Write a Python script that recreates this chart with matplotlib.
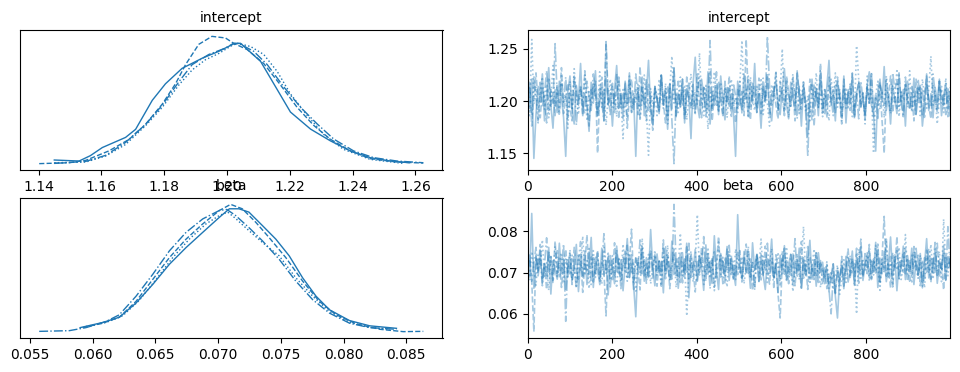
import matplotlib
matplotlib.use("Agg")
import matplotlib.pyplot as plt
import numpy as np

var_names = ["intercept", "beta"]
chain_styles = ["-", "--", ":", "-."]

# --- KDE curves (x, density) per chain ---
intercept_kde_x = [
    [1.145, 1.1529, 1.1565, 1.1603, 1.1677, 1.1709, 1.1762, 1.1804, 1.1857, 1.1921, 1.1974,
     1.2025, 1.2043, 1.2107, 1.2149, 1.2202, 1.2266, 1.2329, 1.2393, 1.2456, 1.2520, 1.2580],
    [1.1402, 1.1497, 1.155, 1.1624, 1.1688, 1.1741, 1.1794, 1.1836, 1.1868, 1.191, 1.1952,
     1.1995, 1.2021, 1.2065, 1.2117, 1.217, 1.2223, 1.2276, 1.2329, 1.2393, 1.2456, 1.2541, 1.2625],
    [1.145, 1.155, 1.1614, 1.1677, 1.1741, 1.1794, 1.1847, 1.1889, 1.1931, 1.1974, 1.2016,
     1.2033, 1.2075, 1.2117, 1.216, 1.2202, 1.2255, 1.2308, 1.2371, 1.2456, 1.2562],
    [1.145, 1.155, 1.1614, 1.1677, 1.1741, 1.1794, 1.1847, 1.1889, 1.1942, 1.1995, 1.2021,
     1.2043, 1.2085, 1.2128, 1.2181, 1.2234, 1.2287, 1.234, 1.2403, 1.2467, 1.2541, 1.2625],
]
intercept_kde_y = [
    [0.70, 0.51, 1.52, 3.04, 4.94, 6.46, 11.9, 15.0, 17.9, 19.8, 21.1,
     22.6, 22.6, 19.2, 15.0, 9.7, 6.5, 4.3, 2.4, 1.14, 0.51, 0.19],
    [0.02, 0.19, 0.63, 2.41, 4.56, 7.41, 11.2, 15.0, 18.6, 22.4, 23.9,
     23.6, 22.6, 21.4, 18.8, 14.8, 10.6, 7.2, 4.6, 2.4, 0.95, 0.32, 0.13],
    [0.19, 0.32, 1.46, 3.61, 7.16, 10.6, 14.8, 17.6, 19.5, 20.7, 22.2,
     22.6, 22.0, 20.5, 17.3, 13.1, 9.1, 5.5, 2.7, 0.82, 0.06],
    [0.06, 0.44, 1.58, 4.0, 7.41, 11.0, 15.4, 18.6, 20.5, 21.7, 22.6,
     22.4, 21.1, 18.6, 14.4, 10.6, 7.47, 4.62, 2.41, 1.14, 0.51, 0.19],
]
beta_kde_x = [
    [0.0590, 0.0608, 0.06213, 0.06346, 0.06479, 0.06612, 0.06745, 0.06878, 0.07011, 0.0709,
     0.07166, 0.07246, 0.07353, 0.0746, 0.07567, 0.07674, 0.07781, 0.07888, 0.08048, 0.08209, 0.08422],
    [0.0592, 0.0608, 0.06213, 0.06346, 0.06479, 0.06612, 0.06745, 0.06878, 0.07011, 0.0710,
     0.07193, 0.073, 0.07406, 0.0754, 0.07674, 0.07807, 0.07941, 0.08102, 0.08289, 0.08476, 0.08636],
    [0.05947, 0.06106, 0.0624, 0.06372, 0.06505, 0.06638, 0.06771, 0.06904, 0.07011, 0.07077,
     0.07140, 0.07219, 0.07353, 0.07487, 0.0762, 0.07754, 0.07888, 0.08048, 0.08209, 0.08369],
    [0.05574, 0.05814, 0.05947, 0.06106, 0.06213, 0.06346, 0.06479, 0.06612, 0.06745, 0.06878,
     0.07011, 0.0707, 0.07139, 0.07246, 0.07353, 0.07487, 0.0762, 0.07754, 0.07888, 0.08048,
     0.08209, 0.08422],
]
beta_kde_y = [
    [2.9, 6.6, 10.4, 20.7, 34.1, 48.7, 60.8, 71.8, 82.7, 88.8,
     88.8, 86.4, 76.7, 66.9, 54.8, 38.9, 25.6, 15.8, 8.0, 4.2, 2.4],
    [2.9, 6.1, 10.4, 21.9, 37.7, 53.5, 66.9, 77.9, 87.6, 92.0,
     88.8, 79.1, 68.1, 53.5, 36.5, 21.9, 12.2, 5.6, 1.7, 0.0, 0.2],
    [3.7, 6.6, 11.5, 22.6, 37.7, 53.5, 66.9, 77.9, 84.0, 86.4,
     81.8, 75.2, 64.5, 54.8, 38.9, 25.6, 14.6, 6.6, 3.1, 1.7],
    [0.2, 0.7, 2.9, 7.3, 12.2, 25.6, 41.4, 58.4, 71.8, 81.5,
     87.6, 88.3, 84.0, 75.2, 65.7, 52.3, 36.5, 23.1, 13.4, 6.1, 2.9, 1.7],
]

# --- trace values (every ~5th draw) per chain ---
intercept_trace = [
    [1.208, 1.193, 1.221, 1.145, 1.187, 1.214, 1.199, 1.226, 1.181, 1.205, 1.232, 1.196, 1.174, 1.211, 1.189, 1.219, 1.203, 1.184, 1.147, 1.209,
     1.224, 1.192, 1.178, 1.215, 1.201, 1.236, 1.188, 1.207, 1.195, 1.171, 1.218, 1.203, 1.229, 1.186, 1.199, 1.213, 1.181, 1.222, 1.197, 1.208,
     1.176, 1.211, 1.234, 1.193, 1.205, 1.183, 1.219, 1.198, 1.227, 1.189, 1.204, 1.147, 1.212, 1.195, 1.223, 1.186, 1.208, 1.239, 1.192, 1.177,
     1.214, 1.201, 1.188, 1.225, 1.196, 1.209, 1.173, 1.216, 1.199, 1.231, 1.185, 1.206, 1.194, 1.221, 1.179, 1.212, 1.203, 1.164, 1.217, 1.242,
     1.197, 1.184, 1.221, 1.205, 1.191, 1.228, 1.178, 1.209, 1.196, 1.215, 1.187, 1.224, 1.201, 1.182, 1.213, 1.195, 1.207, 1.188, 1.147, 1.219,
     1.203, 1.192, 1.226, 1.211, 1.185, 1.217, 1.198, 1.236, 1.189, 1.206, 1.174, 1.214, 1.201, 1.223, 1.193, 1.181, 1.208, 1.219, 1.196, 1.187,
     1.212, 1.231, 1.197, 1.183, 1.218, 1.204, 1.191, 1.227, 1.209, 1.176, 1.215, 1.199, 1.166, 1.206, 1.221, 1.193, 1.212, 1.186, 1.229, 1.201,
     1.188, 1.214, 1.239, 1.196, 1.207, 1.181, 1.219, 1.203, 1.192, 1.224, 1.179, 1.211, 1.198, 1.226, 1.185, 1.208, 1.217, 1.194, 1.204, 1.182,
     1.215, 1.228, 1.196, 1.187, 1.152, 1.209, 1.221, 1.199, 1.233, 1.191, 1.206, 1.178, 1.214, 1.202, 1.188, 1.225, 1.197, 1.211, 1.176, 1.219,
     1.204, 1.192, 1.222, 1.187, 1.209, 1.215, 1.176, 1.198, 1.226, 1.191, 1.207, 1.184, 1.213, 1.199, 1.221, 1.186, 1.205, 1.217, 1.193, 1.209],
    [1.191, 1.218, 1.176, 1.205, 1.227, 1.198, 1.184, 1.212, 1.203, 1.179, 1.221, 1.194, 1.208, 1.186, 1.215, 1.199, 1.232, 1.188, 1.204, 1.217,
     1.193, 1.181, 1.224, 1.207, 1.196, 1.213, 1.185, 1.229, 1.201, 1.176, 1.211, 1.198, 1.219, 1.150, 1.206, 1.223, 1.191, 1.256, 1.204, 1.187,
     1.214, 1.197, 1.226, 1.183, 1.209, 1.192, 1.218, 1.174, 1.205, 1.221, 1.196, 1.211, 1.187, 1.233, 1.199, 1.208, 1.181, 1.216, 1.194, 1.172,
     1.212, 1.203, 1.189, 1.225, 1.198, 1.179, 1.215, 1.206, 1.191, 1.232, 1.186, 1.209, 1.197, 1.221, 1.183, 1.204, 1.218, 1.193, 1.211, 1.188,
     1.226, 1.199, 1.184, 1.213, 1.205, 1.192, 1.228, 1.181, 1.207, 1.196, 1.219, 1.203, 1.187, 1.214, 1.198, 1.224, 1.191, 1.206, 1.179, 1.212,
     1.195, 1.209, 1.186, 1.259, 1.201, 1.182, 1.217, 1.204, 1.193, 1.222, 1.188, 1.211, 1.199, 1.227, 1.185, 1.206, 1.214, 1.196, 1.183, 1.219,
     1.202, 1.189, 1.224, 1.208, 1.195, 1.213, 1.181, 1.229, 1.204, 1.192, 1.218, 1.197, 1.186, 1.221, 1.207, 1.176, 1.212, 1.199, 1.236, 1.193,
     1.205, 1.184, 1.216, 1.198, 1.211, 1.189, 1.223, 1.202, 1.178, 1.214, 1.196, 1.208, 1.191, 1.227, 1.183, 1.205, 1.219, 1.194, 1.209, 1.187,
     1.213, 1.199, 1.226, 1.185, 1.207, 1.196, 1.218, 1.181, 1.150, 1.211, 1.202, 1.224, 1.189, 1.206, 1.193, 1.227, 1.198, 1.185, 1.216, 1.204,
     1.192, 1.209, 1.181, 1.221, 1.198, 1.213, 1.187, 1.206, 1.224, 1.195, 1.183, 1.215, 1.201, 1.189, 1.219, 1.207, 1.196, 1.212, 1.185, 1.203],
    [1.203, 1.186, 1.259, 1.197, 1.214, 1.179, 1.208, 1.223, 1.192, 1.216, 1.184, 1.201, 1.234, 1.195, 1.211, 1.188, 1.226, 1.199, 1.206, 1.174,
     1.219, 1.193, 1.231, 1.205, 1.187, 1.212, 1.198, 1.225, 1.181, 1.209, 1.196, 1.217, 1.203, 1.189, 1.228, 1.194, 1.211, 1.177, 1.204, 1.221,
     1.192, 1.208, 1.185, 1.219, 1.201, 1.164, 1.213, 1.196, 1.224, 1.188, 1.207, 1.199, 1.216, 1.181, 1.203, 1.225, 1.191, 1.148, 1.212, 1.197,
     1.209, 1.186, 1.221, 1.204, 1.193, 1.217, 1.178, 1.211, 1.243, 1.198, 1.206, 1.189, 1.223, 1.195, 1.214, 1.182, 1.205, 1.226, 1.192, 1.209,
     1.197, 1.246, 1.201, 1.186, 1.215, 1.173, 1.208, 1.194, 1.228, 1.203, 1.189, 1.218, 1.199, 1.212, 1.184, 1.207, 1.221, 1.195, 1.203, 1.189,
     1.216, 1.258, 1.197, 1.211, 1.184, 1.223, 1.203, 1.191, 1.214, 1.206, 1.222, 1.187, 1.209, 1.198, 1.176, 1.216, 1.201, 1.229, 1.193, 1.207,
     1.250, 1.193, 1.212, 1.184, 1.207, 1.226, 1.198, 1.214, 1.188, 1.203, 1.219, 1.191, 1.205, 1.181, 1.217, 1.199, 1.227, 1.194, 1.208, 1.185,
     1.212, 1.196, 1.181, 1.221, 1.205, 1.227, 1.194, 1.211, 1.186, 1.199, 1.213, 1.192, 1.218, 1.204, 1.187, 1.253, 1.221, 1.197, 1.209, 1.178,
     1.224, 1.196, 1.211, 1.150, 1.205, 1.219, 1.192, 1.208, 1.184, 1.224, 1.201, 1.188, 1.215, 1.197, 1.231, 1.185, 1.209, 1.202, 1.217, 1.194,
     1.229, 1.189, 1.206, 1.198, 1.214, 1.186, 1.221, 1.204, 1.193, 1.211, 1.243, 1.196, 1.207, 1.178, 1.201, 1.214, 1.189, 1.222, 1.198, 1.213],
    [1.196, 1.213, 1.187, 1.224, 1.202, 1.181, 1.218, 1.194, 1.207, 1.229, 1.191, 1.211, 1.198, 1.255, 1.204, 1.186, 1.216, 1.199, 1.223, 1.184,
     1.209, 1.193, 1.221, 1.177, 1.205, 1.214, 1.196, 1.188, 1.219, 1.203, 1.191, 1.226, 1.208, 1.185, 1.212, 1.199, 1.181, 1.257, 1.196, 1.204,
     1.217, 1.189, 1.208, 1.223, 1.194, 1.211, 1.198, 1.185, 1.219, 1.202, 1.192, 1.226, 1.207, 1.184, 1.213, 1.197, 1.221, 1.191, 1.205, 1.182,
     1.214, 1.203, 1.191, 1.226, 1.197, 1.212, 1.186, 1.218, 1.182, 1.140, 1.206, 1.219, 1.194, 1.211, 1.187, 1.223, 1.201, 1.195, 1.216, 1.189,
     1.208, 1.223, 1.196, 1.213, 1.185, 1.202, 1.258, 1.193, 1.207, 1.228, 1.191, 1.204, 1.186, 1.219, 1.199, 1.212, 1.184, 1.217, 1.205, 1.194,
     1.219, 1.188, 1.211, 1.202, 1.224, 1.193, 1.206, 1.215, 1.189, 1.208, 1.197, 1.222, 1.201, 1.262, 1.214, 1.196, 1.209, 1.227, 1.191, 1.203,
     1.213, 1.186, 1.219, 1.204, 1.195, 1.222, 1.209, 1.183, 1.214, 1.198, 1.207, 1.191, 1.148, 1.199, 1.182, 1.216, 1.204, 1.193, 1.221, 1.187,
     1.211, 1.196, 1.223, 1.204, 1.186, 1.215, 1.198, 1.209, 1.181, 1.221, 1.193, 1.206, 1.214, 1.185, 1.195, 1.207, 1.183, 1.219, 1.201, 1.188,
     1.214, 1.198, 1.227, 1.191, 1.204, 1.182, 1.216, 1.209, 1.196, 1.222, 1.203, 1.189, 1.227, 1.211, 1.219, 1.195, 1.208, 1.186, 1.223, 1.201,
     1.192, 1.214, 1.205, 1.186, 1.221, 1.199, 1.211, 1.183, 1.216, 1.202, 1.194, 1.226, 1.208, 1.191, 1.219, 1.198, 1.206, 1.187, 1.213, 1.185],
]
beta_trace = [
    [0.0716, 0.0689, 0.0843, 0.0662, 0.0738, 0.0701, 0.0754, 0.0675, 0.0722, 0.0693, 0.0761, 0.0648, 0.0729, 0.0707, 0.0684, 0.0771, 0.0698, 0.0733, 0.0659, 0.0715,
     0.0747, 0.0681, 0.0709, 0.0768, 0.0654, 0.0726, 0.0693, 0.0752, 0.0671, 0.0718, 0.0785, 0.0664, 0.0737, 0.0702, 0.0679, 0.0759, 0.0694, 0.0729, 0.0646, 0.0741,
     0.0708, 0.0673, 0.0764, 0.0697, 0.0731, 0.0656, 0.0719, 0.0782, 0.0688, 0.0743, 0.0667, 0.0593, 0.0725, 0.0706, 0.0758, 0.0679, 0.0736, 0.0691, 0.0804, 0.0712,
     0.0668, 0.0745, 0.0699, 0.0727, 0.0651, 0.0762, 0.0713, 0.0684, 0.0776, 0.0695, 0.0733, 0.0662, 0.0719, 0.0748, 0.0687, 0.0771, 0.0639, 0.0724, 0.0703, 0.0756,
     0.0682, 0.0739, 0.0711, 0.0657, 0.0767, 0.0696, 0.0728, 0.0674, 0.0789, 0.0705, 0.0659, 0.0746, 0.0718, 0.0692, 0.0763, 0.0681, 0.0734, 0.0702, 0.0669, 0.0840,
     0.0714, 0.0688, 0.0751, 0.0699, 0.0726, 0.0662, 0.0772, 0.0706, 0.0738, 0.0678, 0.0745, 0.0694, 0.0659, 0.0733, 0.0717, 0.0781, 0.0686, 0.0723, 0.0651, 0.0742,
     0.0697, 0.0765, 0.0683, 0.0719, 0.0744, 0.0671, 0.0728, 0.0704, 0.0759, 0.0662, 0.0736, 0.0693, 0.0712, 0.0778, 0.0684, 0.0731, 0.0667, 0.0748, 0.0701, 0.0725,
     0.0673, 0.0709, 0.0654, 0.0692, 0.0721, 0.0643, 0.0590, 0.0686, 0.0714, 0.0661, 0.0739, 0.0677, 0.0704, 0.0752, 0.0669, 0.0728, 0.0695, 0.0763, 0.0681, 0.0717,
     0.0744, 0.0689, 0.0726, 0.0701, 0.0773, 0.0664, 0.0735, 0.0697, 0.0751, 0.0678, 0.0719, 0.0786, 0.0692, 0.0738, 0.0656, 0.0727, 0.0709, 0.0764, 0.0683, 0.0741,
     0.0702, 0.0759, 0.0671, 0.0728, 0.0694, 0.0746, 0.0663, 0.0719, 0.0782, 0.0687, 0.0735, 0.0699, 0.0757, 0.0674, 0.0723, 0.0708, 0.0766, 0.0681, 0.0739, 0.0712],
    [0.0694, 0.0732, 0.0678, 0.0557, 0.0741, 0.0705, 0.0768, 0.0686, 0.0723, 0.0659, 0.0749, 0.0712, 0.0681, 0.0776, 0.0697, 0.0735, 0.0664, 0.0718, 0.0756, 0.0689,
     0.0727, 0.0671, 0.0761, 0.0703, 0.0684, 0.0744, 0.0652, 0.0719, 0.0791, 0.0696, 0.0738, 0.0677, 0.0709, 0.0754, 0.0668, 0.0729, 0.0701, 0.0595, 0.0747, 0.0714,
     0.0683, 0.0772, 0.0698, 0.0734, 0.0661, 0.0716, 0.0751, 0.0689, 0.0726, 0.0805, 0.0674, 0.0737, 0.0706, 0.0658, 0.0763, 0.0692, 0.0721, 0.0684, 0.0749, 0.0711,
     0.0739, 0.0667, 0.0728, 0.0702, 0.0779, 0.0685, 0.0743, 0.0661, 0.0715, 0.0757, 0.0693, 0.0734, 0.0676, 0.0724, 0.0698, 0.0766, 0.0681, 0.0745, 0.0707, 0.0653,
     0.0731, 0.0694, 0.0762, 0.0716, 0.0679, 0.0748, 0.0702, 0.0736, 0.0665, 0.0721, 0.0787, 0.0689, 0.0727, 0.0673, 0.0758, 0.0704, 0.0741, 0.0682, 0.0717, 0.0695,
     0.0753, 0.0686, 0.0724, 0.0769, 0.0698, 0.0733, 0.0657, 0.0711, 0.0746, 0.0679, 0.0727, 0.0693, 0.0764, 0.0705, 0.0672, 0.0738, 0.0689, 0.0719, 0.0648, 0.0590,
     0.0726, 0.0759, 0.0681, 0.0712, 0.0694, 0.0747, 0.0668, 0.0731, 0.0703, 0.0775, 0.0686, 0.0722, 0.0659, 0.0739, 0.0707, 0.0683, 0.0752, 0.0696, 0.0729, 0.0671,
     0.0714, 0.0661, 0.0698, 0.0676, 0.0721, 0.0649, 0.0703, 0.0668, 0.0739, 0.0685, 0.0712, 0.0757, 0.0693, 0.0726, 0.0672, 0.0744, 0.0708, 0.0781, 0.0689, 0.0731,
     0.0697, 0.0752, 0.0683, 0.0728, 0.0706, 0.0769, 0.0674, 0.0737, 0.0836, 0.0691, 0.0724, 0.0663, 0.0748, 0.0712, 0.0787, 0.0686, 0.0733, 0.0701, 0.0759, 0.0679,
     0.0721, 0.0694, 0.0763, 0.0707, 0.0742, 0.0668, 0.0729, 0.0685, 0.0754, 0.0716, 0.0676, 0.0738, 0.0699, 0.0771, 0.0689, 0.0725, 0.0658, 0.0746, 0.0711, 0.0733],
    [0.0728, 0.0683, 0.0751, 0.0706, 0.0669, 0.0742, 0.0715, 0.0779, 0.0691, 0.0724, 0.0657, 0.0738, 0.0701, 0.0764, 0.0686, 0.0719, 0.0748, 0.0674, 0.0733, 0.0697,
     0.0755, 0.0681, 0.0713, 0.0667, 0.0746, 0.0702, 0.0788, 0.0693, 0.0729, 0.0661, 0.0717, 0.0753, 0.0688, 0.0736, 0.0709, 0.0672, 0.0761, 0.0698, 0.0727, 0.0684,
     0.0741, 0.0705, 0.0663, 0.0732, 0.0694, 0.0769, 0.0712, 0.0679, 0.0748, 0.0701, 0.0726, 0.0655, 0.0737, 0.0696, 0.0783, 0.0718, 0.0687, 0.0744, 0.0673, 0.0711,
     0.0754, 0.0692, 0.0729, 0.0668, 0.0738, 0.0703, 0.0766, 0.0681, 0.0721, 0.0747, 0.0664, 0.0714, 0.0795, 0.0689, 0.0733, 0.0595, 0.0706, 0.0752, 0.0677, 0.0725,
     0.0840, 0.0699, 0.0745, 0.0671, 0.0718, 0.0761, 0.0686, 0.0731, 0.0656, 0.0709, 0.0774, 0.0692, 0.0737, 0.0703, 0.0665, 0.0748, 0.0715, 0.0682, 0.0757, 0.0724,
     0.0696, 0.0739, 0.0673, 0.0717, 0.0752, 0.0688, 0.0726, 0.0663, 0.0743, 0.0709, 0.0781, 0.0694, 0.0731, 0.0676, 0.0719, 0.0758, 0.0685, 0.0712, 0.0749, 0.0667,
     0.0734, 0.0701, 0.0762, 0.0689, 0.0721, 0.0654, 0.0708, 0.0746, 0.0683, 0.0727, 0.0811, 0.0695, 0.0739, 0.0672, 0.0716, 0.0757, 0.0691, 0.0728, 0.0664, 0.0705,
     0.0689, 0.0726, 0.0671, 0.0703, 0.0658, 0.0692, 0.0718, 0.0647, 0.0684, 0.0731, 0.0676, 0.0709, 0.0741, 0.0695, 0.0722, 0.0600, 0.0757, 0.0686, 0.0729, 0.0702,
     0.0748, 0.0679, 0.0733, 0.0694, 0.0766, 0.0711, 0.0657, 0.0738, 0.0702, 0.0775, 0.0688, 0.0724, 0.0669, 0.0745, 0.0706, 0.0761, 0.0683, 0.0719, 0.0792, 0.0697,
     0.0731, 0.0674, 0.0756, 0.0709, 0.0686, 0.0742, 0.0718, 0.0663, 0.0737, 0.0699, 0.0768, 0.0684, 0.0726, 0.0703, 0.0751, 0.0678, 0.0829, 0.0714, 0.0692, 0.0744],
    [0.0708, 0.0746, 0.0679, 0.0723, 0.0761, 0.0692, 0.0734, 0.0668, 0.0717, 0.0784, 0.0701, 0.0739, 0.0676, 0.0725, 0.0753, 0.0687, 0.0712, 0.0769, 0.0582, 0.0731,
     0.0694, 0.0742, 0.0716, 0.0662, 0.0729, 0.0775, 0.0689, 0.0721, 0.0704, 0.0758, 0.0671, 0.0736, 0.0698, 0.0747, 0.0683, 0.0719, 0.0794, 0.0706, 0.0738, 0.0665,
     0.0727, 0.0693, 0.0755, 0.0712, 0.0681, 0.0741, 0.0703, 0.0766, 0.0688, 0.0724, 0.0659, 0.0735, 0.0709, 0.0779, 0.0697, 0.0731, 0.0674, 0.0718, 0.0752, 0.0685,
     0.0743, 0.0706, 0.0728, 0.0667, 0.0759, 0.0696, 0.0737, 0.0714, 0.0684, 0.0865, 0.0722, 0.0691, 0.0748, 0.0675, 0.0733, 0.0701, 0.0771, 0.0688, 0.0726, 0.0709,
     0.0679, 0.0745, 0.0714, 0.0787, 0.0696, 0.0731, 0.0661, 0.0723, 0.0754, 0.0687, 0.0719, 0.0742, 0.0673, 0.0738, 0.0705, 0.0766, 0.0691, 0.0727, 0.0683, 0.0749,
     0.0712, 0.0677, 0.0736, 0.0701, 0.0763, 0.0689, 0.0724, 0.0658, 0.0747, 0.0715, 0.0682, 0.0739, 0.0706, 0.0771, 0.0694, 0.0728, 0.0664, 0.0743, 0.0709, 0.0686,
     0.0752, 0.0696, 0.0729, 0.0673, 0.0744, 0.0711, 0.0782, 0.0688, 0.0721, 0.0659, 0.0734, 0.0703, 0.0767, 0.0681, 0.0718, 0.0693, 0.0749, 0.0676, 0.0726, 0.0707,
     0.0684, 0.0719, 0.0661, 0.0600, 0.0693, 0.0651, 0.0712, 0.0678, 0.0726, 0.0667, 0.0704, 0.0741, 0.0688, 0.0732, 0.0697, 0.0759, 0.0674, 0.0721, 0.0695, 0.0746,
     0.0712, 0.0768, 0.0686, 0.0733, 0.0699, 0.0757, 0.0673, 0.0724, 0.0706, 0.0781, 0.0691, 0.0739, 0.0665, 0.0727, 0.0753, 0.0684, 0.0716, 0.0745, 0.0697, 0.0731,
     0.0679, 0.0742, 0.0708, 0.0763, 0.0689, 0.0724, 0.0667, 0.0736, 0.0701, 0.0758, 0.0684, 0.0719, 0.0773, 0.0693, 0.0728, 0.0705, 0.0749, 0.0682, 0.0811, 0.0714],
]
n_draws = 1000

kde_xticks = [
    [1.14, 1.16, 1.18, 1.20, 1.22, 1.24, 1.26],
    [0.055, 0.060, 0.065, 0.070, 0.075, 0.080, 0.085],
]
kde_xticklabels = [
    ["1.14", "1.16", "1.18", "1.20", "1.22", "1.24", "1.26"],
    ["0.055", "0.060", "0.065", "0.070", "0.075", "0.080", "0.085"],
]
trace_yticks = [[1.15, 1.20, 1.25], [0.06, 0.07, 0.08]]
trace_yticklabels = [["1.15", "1.20", "1.25"], ["0.06", "0.07", "0.08"]]
trace_xticks = [0, 200, 400, 600, 800]

kde_x = [intercept_kde_x, beta_kde_x]
kde_y = [intercept_kde_y, beta_kde_y]
traces = [intercept_trace, beta_trace]

color = "C0"

fig, axes = plt.subplots(2, 2, figsize=(9.6, 3.72), dpi=100)
fig.subplots_adjust(left=20 / 960, right=950 / 960, top=1 - 30 / 372,
                    bottom=1 - 338 / 372, wspace=85 / 422.5, hspace=28 / 140)

for row, name in enumerate(var_names):
    ax_kde = axes[row, 0]
    ax_tr = axes[row, 1]
    for c, ls in enumerate(chain_styles):
        ax_kde.plot(kde_x[row][c], kde_y[row][c], color=color, linestyle=ls, linewidth=1.0)
        vals = traces[row][c]
        draws = np.linspace(0, n_draws - 1, len(vals))
        ax_tr.plot(draws, vals, color=color, linestyle=ls, linewidth=1.2, alpha=0.4)

    ax_kde.set_yticks([])
    ax_kde.set_xticks(kde_xticks[row])
    ax_kde.set_xticklabels(kde_xticklabels[row])
    ax_kde.set_title(name, fontsize=10)

    ax_tr.set_xlim(0, n_draws - 1)
    ax_tr.set_xticks(trace_xticks)
    ax_tr.set_yticks(trace_yticks[row])
    ax_tr.set_yticklabels(trace_yticklabels[row])
    ax_tr.set_title(name, fontsize=10)

fig.savefig("out.png", dpi=100)
